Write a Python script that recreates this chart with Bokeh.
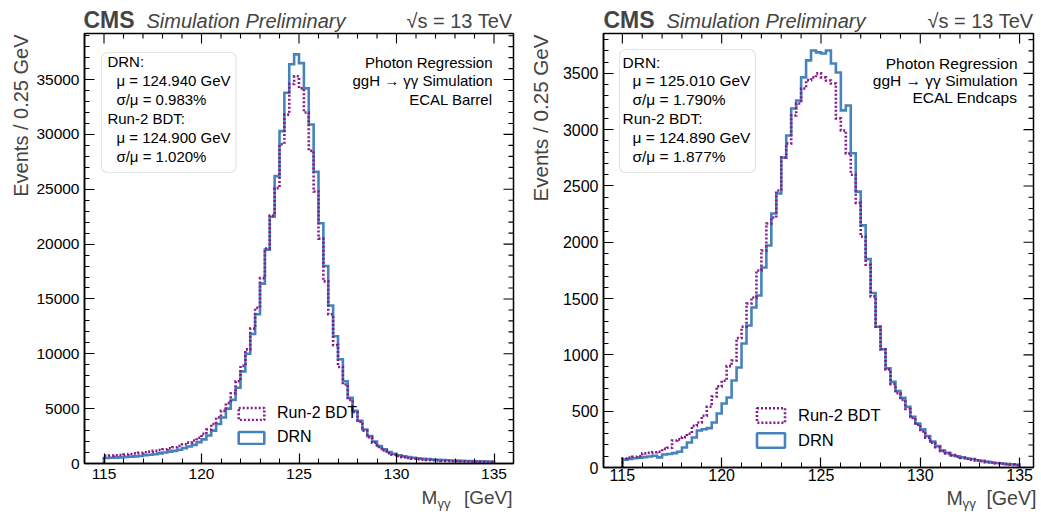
import numpy as np
from bokeh.plotting import figure
from bokeh.models import (Label, BoxAnnotation, Legend, LegendItem, LinearAxis,
                          SingleIntervalTicker, Range1d)
from bokeh.layouts import row, column
from bokeh.embed import file_html
from bokeh.resources import INLINE

# ---------------- data ----------------
BIN_LO = 115.0
BIN_W = 0.25

drn_barrel = [
    500, 520, 540, 560, 600, 620, 650, 690,
    750, 800, 850, 920, 1000, 1080, 1150, 1250,
    1400, 1550, 1700, 1950, 2200, 2550, 3000, 3600,
    4200, 5000, 5800, 6900, 8400, 10000, 11800, 13600,
    16400, 19500, 22500, 26200, 30300, 33800, 36400, 37300,
    36500, 34200, 30900, 26600, 21900, 18000, 14400, 11600,
    9500, 7500, 6000, 4800, 3900, 3100, 2500, 2000,
    1600, 1300, 1050, 880, 750, 650, 580, 520,
    470, 430, 400, 370, 340, 320, 300, 280,
    260, 245, 230, 215, 200, 190, 180, 170,
]
bdt_barrel = [
    700, 720, 750, 780, 820, 870, 920, 970,
    1020, 1080, 1150, 1220, 1300, 1380, 1480, 1600,
    1750, 1900, 2100, 2350, 2700, 3100, 3600, 4200,
    4800, 5500, 6400, 7500, 8900, 10400, 12300, 14200,
    16900, 19600, 22600, 25100, 29100, 31800, 34600, 35300,
    34200, 32000, 28500, 24800, 20500, 16600, 13600, 10800,
    8800, 7200, 5800, 4700, 3800, 3000, 2400, 1900,
    1500, 1200, 950, 800, 680, 580, 500, 440,
    390, 350, 320, 290, 270, 250, 230, 210,
    200, 185, 175, 165, 155, 145, 135, 125,
]
drn_endcap = [
    70, 75, 82, 88, 92, 98, 105, 90,
    115, 120, 128, 140, 178, 222, 266, 329,
    340, 350, 400, 480, 568, 622, 773, 888,
    1101, 1261, 1421, 1528, 1776, 1972, 2256, 2433,
    2753, 2948, 3188, 3259, 3464, 3615, 3703, 3686,
    3677, 3703, 3588, 3508, 3171, 3215, 2790, 2450,
    2150, 1850, 1550, 1250, 1050, 880, 760, 680,
    620, 540, 450, 390, 340, 280, 230, 190,
    150, 130, 110, 100, 90, 80, 75, 65,
    60, 50, 45, 40, 35, 30, 28, 25,
]
bdt_endcap = [
    80, 88, 95, 100, 125, 130, 135, 140,
    165, 175, 240, 250, 270, 300, 370, 400,
    460, 540, 630, 720, 770, 900, 950, 1150,
    1250, 1456, 1510, 1750, 1927, 2167, 2220, 2460,
    2753, 2877, 3126, 3233, 3366, 3440, 3464, 3500,
    3464, 3437, 3410, 3100, 2993, 2789, 2600, 2350,
    2050, 1800, 1520, 1250, 1050, 870, 740, 660,
    600, 520, 440, 380, 320, 265, 220, 180,
    145, 125, 108, 95, 85, 78, 70, 62,
    55, 48, 44, 38, 33, 30, 26, 22,
]

barrel_info = ["DRN:", "μ = 124.940 GeV", "σ/μ = 0.983%",
               "Run-2 BDT:", "μ = 124.900 GeV", "σ/μ = 1.020%"]
endcap_info = ["DRN:", "μ = 125.010 GeV", "σ/μ = 1.790%",
               "Run-2 BDT:", "μ = 124.890 GeV", "σ/μ = 1.877%"]
barrel_desc = ["Photon Regression", "ggH → γγ Simulation", "ECAL Barrel"]
endcap_desc = ["Photon Regression", "ggH → γγ Simulation", "ECAL Endcaps"]
legend_labels = ["Run-2 BDT", "DRN"]
header_texts = ["CMS", "Simulation Preliminary", "√s = 13 TeV"]
ylabel_text = "Events / 0.25 GeV"
xlabel_parts = ["M", "γγ", "[GeV]"]

BLUE = "#4683bb"
PURPLE = "#861a8c"
FONT = "Liberation Sans"

HEAD_H = 32      # header strip height (page px)
MAIN_BOT = 486   # bottom of main figures (page px)
TOTAL_H = 511
YSTRIP_W = 33


def hist_path(values):
    xs, ys = [BIN_LO], [0.0]
    for i, v in enumerate(values):
        lo = BIN_LO + i * BIN_W
        xs += [lo, lo + BIN_W]
        ys += [v, v]
    xs.append(BIN_LO + len(values) * BIN_W)
    ys.append(0.0)
    return xs, ys


def blank_fig(w, h):
    p = figure(width=w, height=h, output_backend="svg", toolbar_location=None,
               x_range=Range1d(0, w), y_range=Range1d(0, h),
               x_axis_location=None, y_axis_location=None, min_border=0)
    p.xgrid.visible = False
    p.ygrid.visible = False
    p.outline_line_color = None
    p.background_fill_color = "white"
    p.border_fill_color = "white"
    return p


def mid(baseline, size):
    # vertical centre of the text box for a given baseline (Liberation Sans)
    return baseline - 0.3465 * size


def make_panel(c):
    L, R = c["left"], c["right"]
    FL, FR, FT, FB = c["frame"]
    x0, x1 = c["xr"]
    y0, y1 = c["yr"]
    s = c["scale"]

    def fx(px):
        return x0 + (px - FL) * (x1 - x0) / (FR - FL)

    def fy(py):
        return y0 + (FB - py) * (y1 - y0) / (FB - FT)

    # ---------- main plot ----------
    mw = R - (L + YSTRIP_W)
    mh = MAIN_BOT - HEAD_H
    p = figure(width=mw, height=mh, output_backend="svg",
               toolbar_location=None, x_range=Range1d(x0, x1),
               y_range=Range1d(y0, y1), x_axis_location=None,
               y_axis_location=None)
    p.min_border_left = FL - (L + YSTRIP_W)
    p.min_border_right = R - FR
    p.min_border_top = FT - HEAD_H
    p.min_border_bottom = MAIN_BOT - FB
    p.xgrid.visible = False
    p.ygrid.visible = False
    p.outline_line_color = "black"
    p.outline_line_width = 1.5
    p.background_fill_color = "white"
    p.border_fill_color = "white"

    xt = SingleIntervalTicker(interval=5, num_minor_ticks=5)
    yt = SingleIntervalTicker(interval=c["ymajor"], num_minor_ticks=5)
    for ax, place, stand in ((LinearAxis(ticker=xt), "below", c["xstand"]),
                             (LinearAxis(ticker=yt), "left", 5)):
        ax.major_tick_in = 10
        ax.major_tick_out = 0
        ax.minor_tick_in = 5
        ax.minor_tick_out = 0
        ax.axis_line_width = 1.5
        ax.major_tick_line_width = 1.2
        ax.minor_tick_line_width = 1.0
        ax.major_label_text_font = FONT
        ax.major_label_text_color = "black"
        ax.major_label_text_font_size = f"{15.5*s:.1f}px"
        ax.major_label_standoff = stand
        p.add_layout(ax, place)

    # mirrored ticks on top and right (inside)
    kx = (x1 - x0) / (FR - FL)
    ky = (y1 - y0) / (FB - FT)
    xm = np.arange(np.ceil(x0), np.floor(x1) + 1)
    xlen = np.where(np.mod(xm, 5) == 0, 10, 5) * ky
    p.segment(x0=xm, y0=np.full(len(xm), y1), x1=xm, y1=y1 - xlen,
              line_color="black", line_width=1.1)
    ystep = c["ymajor"] / 5
    ym = np.arange(0, y1, ystep)
    ylen = np.where(np.isclose(np.mod(ym, c["ymajor"]), 0), 10, 5) * kx
    p.segment(x0=np.full(len(ym), x1), y0=ym, x1=x1 - ylen, y1=ym,
              line_color="black", line_width=1.1)

    # histograms
    dx, dy = hist_path(c["drn"])
    bx, by = hist_path(c["bdt"])
    p.line(dx, dy, line_color=BLUE, line_width=2.6, line_join="miter")
    p.line(bx, by, line_color=PURPLE, line_width=2.6, line_dash="2 2",
           line_join="miter")

    # legend with box-shaped symbols (renderers hold no visible data)
    nan = [float("nan")]
    rb = p.quad(left=nan, right=nan, top=nan, bottom=nan, fill_color=None,
                line_color=PURPLE, line_width=2.6, line_dash="2 2")
    rd = p.quad(left=nan, right=nan, top=nan, bottom=nan, fill_color=None,
                line_color=BLUE, line_width=2.6)
    lg = c["legend"]
    leg = Legend(items=[LegendItem(label=legend_labels[0], renderers=[rb]),
                        LegendItem(label=legend_labels[1], renderers=[rd])],
                 location=(lg["x"], lg["y"]), padding=0, margin=0,
                 spacing=lg["spacing"], glyph_width=lg["gw"],
                 glyph_height=lg["gh"], label_standoff=lg["standoff"],
                 label_height=20, label_text_font=FONT,
                 label_text_font_size=f"{16*s:.1f}px",
                 label_text_color="black", border_line_color=None,
                 background_fill_alpha=0)
    p.add_layout(leg)

    # info box
    bl, br, bt, bb = c["box"]
    p.add_layout(BoxAnnotation(left=fx(bl), right=fx(br), top=fy(bt),
                               bottom=fy(bb), fill_alpha=0,
                               line_color="#a8a8a8", line_width=1.2,
                               border_radius=6))
    for i, t in enumerate(c["info"]):
        xpx = c["info_x"][0] if i % 3 == 0 else c["info_x"][1]
        p.add_layout(Label(x=fx(xpx), y=fy(c["info_y"][i]), text=t,
                           text_font=FONT, text_font_size=f"{15*s:.1f}px",
                           text_baseline="middle", text_align="left",
                           text_color="black"))
    for i, t in enumerate(c["desc"]):
        p.add_layout(Label(x=fx(c["desc_x"]), y=fy(c["desc_y"][i]), text=t,
                           text_font=FONT, text_font_size=f"{15*s:.1f}px",
                           text_baseline="middle", text_align="right",
                           text_color="black"))

    # ---------- header strip ----------
    hw = R - L
    hdr = blank_fig(hw, HEAD_H)
    hb = 27  # baseline (page px)
    hdr.add_layout(Label(x=FL - L, y=HEAD_H - mid(hb, 23), text=header_texts[0],
                         text_font=FONT, text_font_style="bold",
                         text_font_size="23px", text_baseline="middle",
                         text_align="left"))
    hdr.add_layout(Label(x=FL - L + 63, y=HEAD_H - mid(hb, 20),
                         text=header_texts[1], text_font=FONT,
                         text_font_style="italic", text_font_size="20px",
                         text_baseline="middle", text_align="left"))
    hdr.add_layout(Label(x=c["sqrt_x"] - L, y=HEAD_H - mid(hb, 20),
                         text=header_texts[2], text_font=FONT,
                         text_font_size="20px", text_baseline="middle",
                         text_align="right"))

    # ---------- y-label strip ----------
    ys = blank_fig(YSTRIP_W, mh)
    ysz = 20 * s
    ys.add_layout(Label(x=c["ylab_x"] - L - 0.3465 * ysz,
                        y=mh - (33 - HEAD_H), text=ylabel_text, text_font=FONT,
                        text_font_size=f"{ysz:.1f}px", angle=np.pi / 2,
                        text_baseline="middle", text_align="right"))

    # ---------- x-label strip ----------
    xh = TOTAL_H - MAIN_BOT
    xs_ = blank_fig(hw, xh)
    mx, gx, gex, base = c["xlab"]
    big, small = 19 * s, 13 * s
    xs_.add_layout(Label(x=mx - L, y=TOTAL_H - mid(base, big),
                         text=xlabel_parts[0], text_font=FONT,
                         text_font_size=f"{big:.1f}px",
                         text_baseline="middle", text_align="left"))
    xs_.add_layout(Label(x=gx - L, y=TOTAL_H - mid(base + 4, small),
                         text=xlabel_parts[1], text_font=FONT,
                         text_font_size=f"{small:.1f}px",
                         text_baseline="middle", text_align="left"))
    xs_.add_layout(Label(x=gex - L, y=TOTAL_H - mid(base, big),
                         text=xlabel_parts[2], text_font=FONT,
                         text_font_size=f"{big:.1f}px",
                         text_baseline="middle", text_align="right"))

    return column(hdr, row(ys, p), xs_)


left_cfg = dict(
    left=0, right=520, frame=(83, 513, 33, 463),
    xr=(114.0, 136.0), yr=(0, 39200), ymajor=5000, scale=1.0, xstand=5,
    drn=drn_barrel, bdt=bdt_barrel, info=barrel_info, desc=barrel_desc,
    box=(100, 235, 52, 172), info_x=(106, 115),
    info_y=(61, 80, 99, 118, 137, 156), desc_x=492, desc_y=(62, 80, 99),
    sqrt_x=512, ylab_x=27, xlab=(421, 437, 512, 504),
    legend=dict(x=151, y=16, spacing=4, gw=32, gh=15, standoff=10),
)
right_cfg = dict(
    left=520, right=1040, frame=(603, 1033, 33, 467),
    xr=(114.05, 135.7), yr=(0, 3854), ymajor=500, scale=1.03, xstand=1,
    drn=drn_endcap, bdt=bdt_endcap, info=endcap_info, desc=endcap_desc,
    box=(619, 755, 49, 172), info_x=(622, 632),
    info_y=(62, 80, 99, 118, 137, 156), desc_x=1017, desc_y=(63, 80, 97),
    sqrt_x=1033, ylab_x=547, xlab=(946, 962, 1036, 504),
    legend=dict(x=150, y=17, spacing=5, gw=35, gh=18, standoff=10),
)

layout = row(make_panel(left_cfg), make_panel(right_cfg))
open("out.html", "w").write(file_html(layout, INLINE))
